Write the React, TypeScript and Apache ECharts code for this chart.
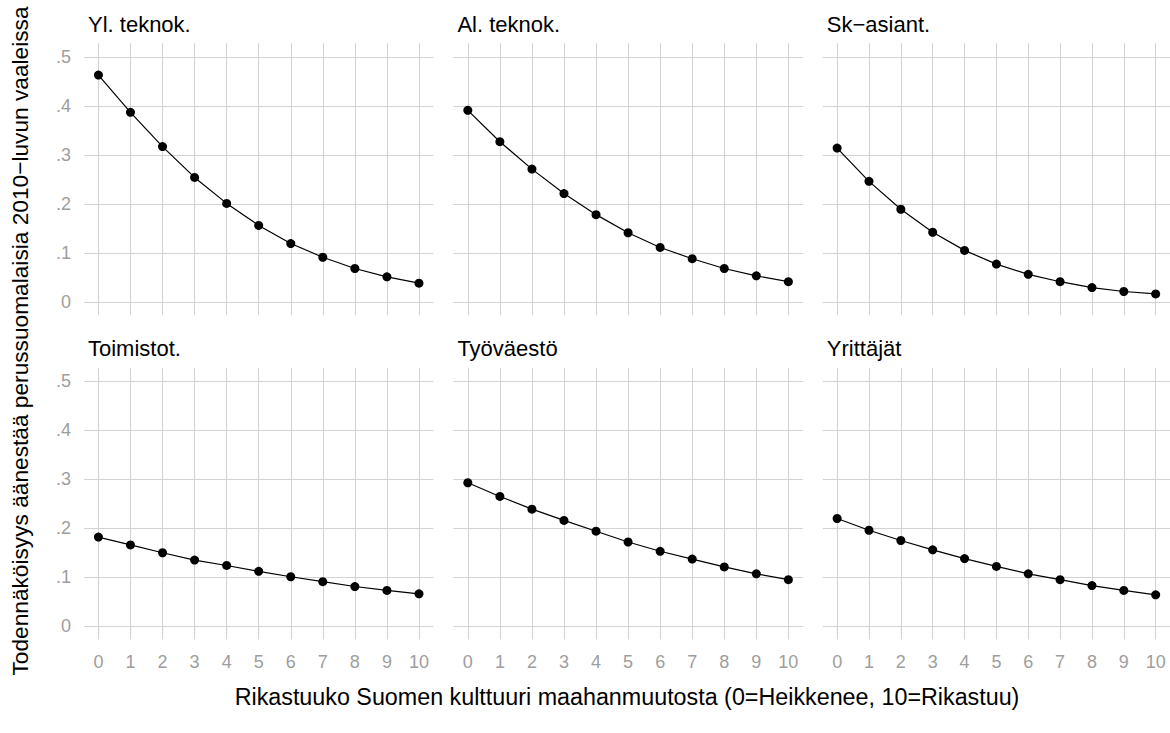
import React, { useEffect, useRef } from "react";
import * as echarts from "echarts";

const xValues = [0, 1, 2, 3, 4, 5, 6, 7, 8, 9, 10];
const panelTitles = ["Yl. teknok.", "Al. teknok.", "Sk\u2212asiant.", "Toimistot.", "Työväestö", "Yrittäjät"];
const ylTeknok = [0.463, 0.387, 0.317, 0.254, 0.201, 0.156, 0.119, 0.091, 0.068, 0.051, 0.038];
const alTeknok = [0.391, 0.327, 0.271, 0.221, 0.178, 0.141, 0.111, 0.088, 0.068, 0.053, 0.041];
const skAsiant = [0.314, 0.246, 0.189, 0.142, 0.105, 0.077, 0.056, 0.041, 0.029, 0.021, 0.016];
const toimistot = [0.182, 0.166, 0.150, 0.135, 0.124, 0.112, 0.101, 0.091, 0.081, 0.073, 0.066];
const tyovaesto = [0.293, 0.265, 0.239, 0.216, 0.194, 0.172, 0.153, 0.137, 0.121, 0.107, 0.095];
const yrittajat = [0.220, 0.196, 0.175, 0.156, 0.138, 0.122, 0.107, 0.095, 0.083, 0.073, 0.064];
const yTicks = [0, 0.1, 0.2, 0.3, 0.4, 0.5];
const xTicks = [0, 1, 2, 3, 4, 5, 6, 7, 8, 9, 10];
const yAxisTitle = "Todennäköisyys äänestää perussuomalaisia 2010\u2212luvun vaaleissa";
const xAxisTitle = "Rikastuuko Suomen kulttuuri maahanmuutosta (0=Heikkenee, 10=Rikastuu)";

const seriesValues = [ylTeknok, alTeknok, skAsiant, toimistot, tyovaesto, yrittajat];

const FONT = "'Liberation Sans', Arial, Helvetica, sans-serif";
const GRID_COLOR = "#d3d3d3";
const LABEL_COLOR = "#9e9e9e";

export default function App() {
  const ref = useRef<HTMLDivElement>(null);

  useEffect(() => {
    if (!ref.current) return;
    const chart = echarts.init(ref.current, undefined, { renderer: "svg" });

    const colLefts = [84, 453.4, 822.8];
    const rowTops = [43.3, 367.7];
    const panelW = 349.4;
    const panelH = 271.7;

    const grids: any[] = [];
    const xAxes: any[] = [];
    const yAxes: any[] = [];
    const series: any[] = [];
    const titles: any[] = [];

    for (let i = 0; i < 6; i++) {
      const r = Math.floor(i / 3);
      const c = i % 3;
      grids.push({ left: colLefts[c], top: rowTops[r], width: panelW, height: panelH, containLabel: false });
      const bottomRow = r === 1;
      const leftCol = c === 0;
      xAxes.push({
        type: "value",
        gridIndex: i,
        min: -0.45,
        max: 10.45,
        axisLine: { show: false },
        axisTick: {
          show: bottomRow,
          customValues: xTicks,
          length: 8,
          lineStyle: { color: GRID_COLOR, width: 1.1 },
        },
        axisLabel: {
          show: bottomRow,
          customValues: xTicks,
          margin: 14,
          color: LABEL_COLOR,
          fontSize: 18,
          fontFamily: FONT,
          formatter: (v: number) => String(v),
        },
        splitLine: { show: true, lineStyle: { color: GRID_COLOR, width: 1.1 } },
      });
      yAxes.push({
        type: "value",
        gridIndex: i,
        min: -0.027,
        max: 0.528,
        axisLine: { show: false },
        axisTick: {
          show: leftCol,
          customValues: yTicks,
          length: 8,
          lineStyle: { color: GRID_COLOR, width: 1.1 },
        },
        axisLabel: {
          show: leftCol,
          customValues: yTicks,
          margin: 13,
          color: LABEL_COLOR,
          fontSize: 18,
          fontFamily: FONT,
          formatter: (v: number) => (Math.abs(v) < 1e-9 ? "0" : v.toFixed(1).replace(/^0/, "")),
        },
        splitLine: { show: true, lineStyle: { color: GRID_COLOR, width: 1.1 } },
      });
      series.push({
        type: "line",
        xAxisIndex: i,
        yAxisIndex: i,
        data: xValues.map((x, k) => [x, seriesValues[i][k]]),
        symbol: "circle",
        symbolSize: 9,
        showSymbol: true,
        itemStyle: { color: "#000" },
        lineStyle: { color: "#000", width: 1.2 },
        silent: true,
      });
      titles.push({
        text: panelTitles[i],
        left: colLefts[c] + 4,
        top: rowTops[r] - 30,
        textStyle: { fontSize: 22, fontWeight: "normal", color: "#000", fontFamily: FONT },
        padding: 0,
      });
    }

    chart.setOption({
      animation: false,
      backgroundColor: "#fff",
      title: titles,
      grid: grids,
      xAxis: xAxes,
      yAxis: yAxes,
      series,
      graphic: [
        {
          type: "text",
          x: 20,
          y: 341,
          rotation: Math.PI / 2,
          style: {
            text: yAxisTitle,
            fontSize: 22.7,
            fontFamily: FONT,
            fill: "#000",
            textAlign: "center",
            textVerticalAlign: "middle",
          },
        },
        {
          type: "text",
          x: 627,
          y: 697,
          style: {
            text: xAxisTitle,
            fontSize: 23.3,
            fontFamily: FONT,
            fill: "#000",
            textAlign: "center",
            textVerticalAlign: "middle",
          },
        },
      ],
    });

    return () => chart.dispose();
  }, []);

  return (
    <div
      ref={ref}
      style={{ position: "fixed", left: 0, top: 0, width: 1170, height: 733 }}
    />
  );
}
